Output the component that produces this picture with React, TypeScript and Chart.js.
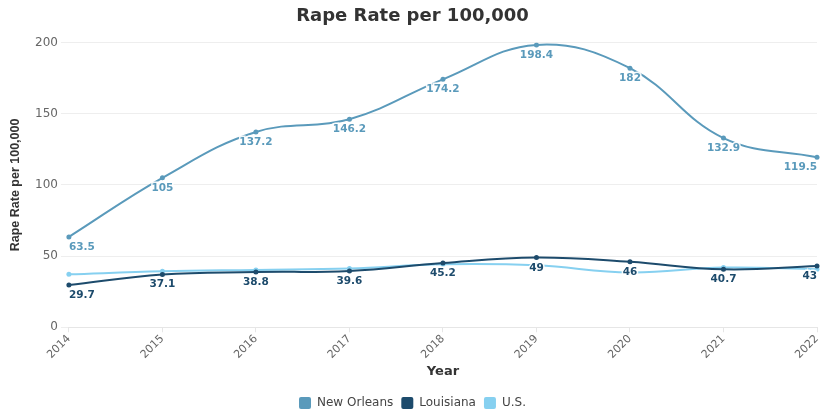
import React, { useEffect, useRef } from "react";
import { Chart, registerables } from "chart.js";

Chart.register(...registerables);

const years = ["2014", "2015", "2016", "2017", "2018", "2019", "2020", "2021", "2022"];
const newOrleans = [63.5, 105, 137.2, 146.2, 174.2, 198.4, 182, 132.9, 119.5];
const louisiana = [29.7, 37.1, 38.8, 39.6, 45.2, 49, 46, 40.7, 43];
const us = [37.2, 39.3, 40.3, 41.3, 44.2, 43.5, 38.5, 42, 40.8];
const labelledSeries = [0, 1];

const FONT = "'DejaVu Sans', sans-serif";

const labelPlugin = {
  id: "pointLabels",
  afterDatasetsDraw(chart: any) {
    const ctx = chart.ctx;
    const area = chart.chartArea;
    ctx.save();
    ctx.font = `bold 10.5px ${FONT}`;
    ctx.textBaseline = "top";
    ctx.textAlign = "left";
    labelledSeries.forEach((di) => {
      const ds = chart.data.datasets[di];
      const meta = chart.getDatasetMeta(di);
      meta.data.forEach((pt: any, i: number) => {
        const txt = String(ds.data[i]);
        const w = ctx.measureText(txt).width;
        let x = pt.x - w / 2;
        if (x < area.left) x = area.left;
        if (x + w > area.right) x = area.right - w;
        ctx.lineWidth = 3;
        ctx.strokeStyle = "rgba(255,255,255,0.9)";
        ctx.strokeText(txt, x, pt.y + 5);
        ctx.fillStyle = ds.borderColor;
        ctx.fillText(txt, x, pt.y + 5);
      });
    });
    ctx.restore();
  },
};

export default function App() {
  const ref = useRef<HTMLCanvasElement>(null);
  useEffect(() => {
    const chart = new Chart(ref.current!, {
      type: "line",
      data: {
        labels: years,
        datasets: [
          {
            label: "New Orleans",
            data: newOrleans,
            borderColor: "#5a9abb",
            backgroundColor: "#5a9abb",
            borderWidth: 2,
            pointRadius: 2.5,
            pointBorderWidth: 0,
            tension: 0.4,
          },
          {
            label: "Louisiana",
            data: louisiana,
            borderColor: "#1d4b6c",
            backgroundColor: "#1d4b6c",
            borderWidth: 2,
            pointRadius: 2.5,
            pointBorderWidth: 0,
            tension: 0.4,
          },
          {
            label: "U.S.",
            data: us,
            borderColor: "#86d0f0",
            backgroundColor: "#86d0f0",
            borderWidth: 2,
            pointRadius: 2.5,
            pointBorderWidth: 0,
            tension: 0.4,
          },
        ],
      },
      options: {
        animation: false,
        responsive: true,
        maintainAspectRatio: false,
        layout: { padding: { left: 8, right: 5, top: 6, bottom: -7 } },
        plugins: {
          title: {
            display: true,
            text: "Rape Rate per 100,000",
            color: "#333333",
            font: { family: FONT, size: 18, weight: "bold" },
            padding: { top: 0, bottom: 15 },
          },
          legend: {
            position: "bottom",
            labels: {
              color: "#444444",
              font: { family: FONT, size: 12 },
              boxWidth: 12,
              boxHeight: 12,
              useBorderRadius: true,
              borderRadius: 2,
              padding: 8,
              generateLabels: (c: any) =>
                c.data.datasets.map((d: any, i: number) => ({
                  text: d.label,
                  fillStyle: d.borderColor,
                  strokeStyle: d.borderColor,
                  lineWidth: 0,
                  borderRadius: 2,
                  fontColor: "#444444",
                  datasetIndex: i,
                  hidden: false,
                })),
            },
          },
          tooltip: { enabled: false },
        },
        scales: {
          x: {
            offset: false,
            afterFit: (s: any) => {
              s.paddingRight = 0;
            },
            grid: { display: true, drawOnChartArea: false, drawTicks: true, tickLength: 5, color: "#e6e6e6" },
            border: { color: "#e6e6e6" },
            ticks: {
              color: "#666666",
              font: { family: FONT, size: 11 },
              maxRotation: 45,
              minRotation: 45,
              padding: 0,
            },
            title: {
              display: true,
              text: "Year",
              color: "#333333",
              font: { family: FONT, size: 13, weight: "bold" },
              padding: { top: 2, bottom: 10 },
            },
          },
          y: {
            min: 0,
            max: 200,
            grid: { color: "#eeeeee", drawTicks: true, tickLength: 8 },
            border: { display: false },
            ticks: {
              stepSize: 50,
              color: "#666666",
              font: { family: FONT, size: 12 },
              padding: 3,
            },
            title: {
              display: true,
              text: "Rape Rate per 100,000",
              color: "#333333",
              font: { family: "'Liberation Sans Narrow', 'Liberation Sans', sans-serif", size: 12.5, weight: "bold" },
              padding: { top: 0, bottom: 9 },
            },
          },
        },
      },
      plugins: [labelPlugin],
    });
    return () => chart.destroy();
  }, []);
  return (
    <div style={{ position: "fixed", left: 0, top: 0, width: 822, height: 412, background: "#fff" }}>
      <canvas ref={ref} />
    </div>
  );
}
